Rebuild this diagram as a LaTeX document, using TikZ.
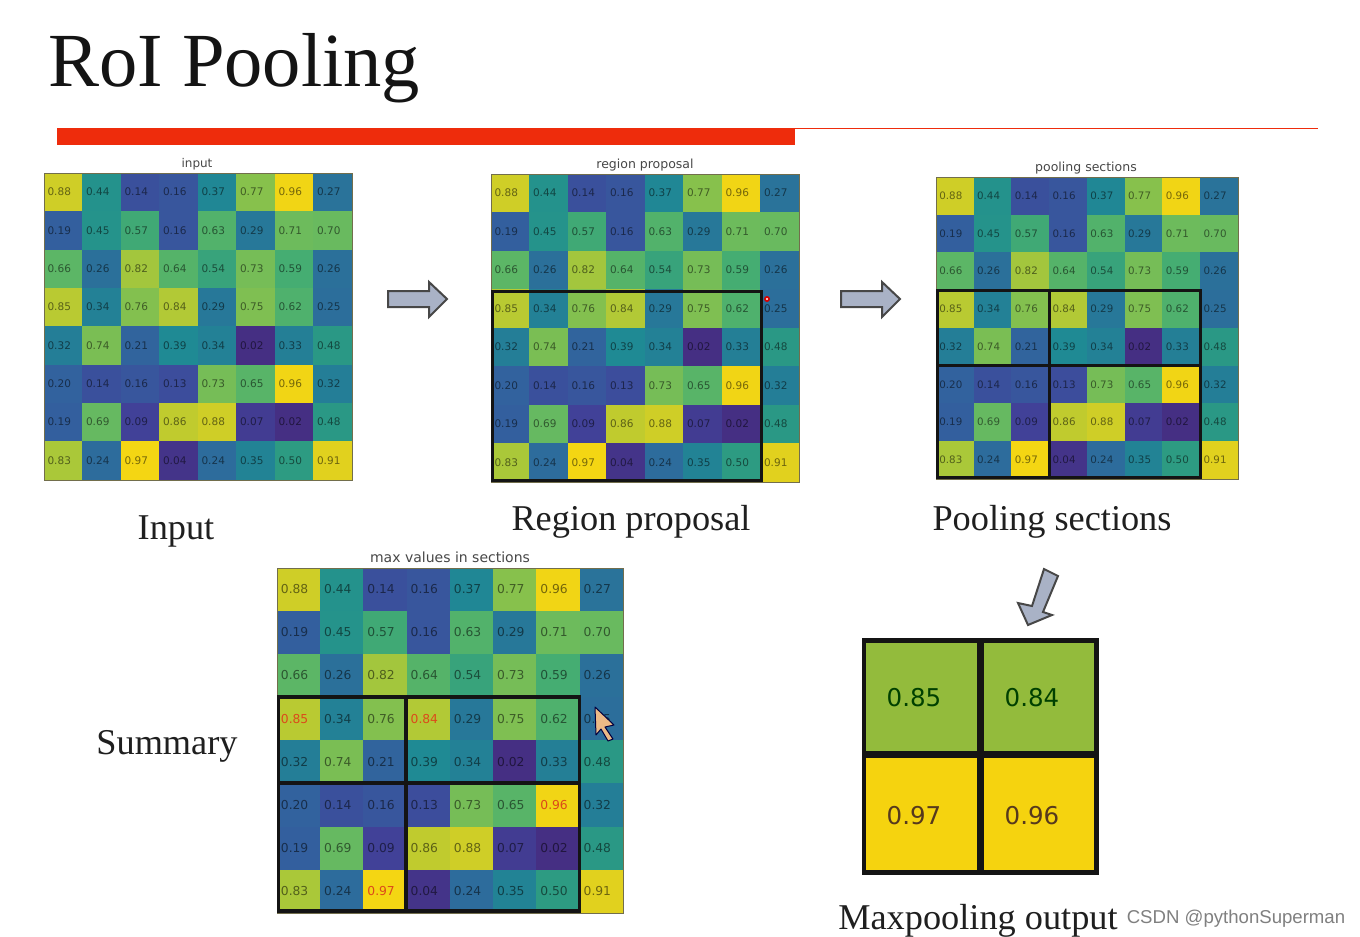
\documentclass[tikz,border=0pt]{standalone}
\usepackage{fontspec}
\setmainfont{Liberation Serif}
\newfontfamily\plotfont{DejaVu Sans}
\newfontfamily\markfont{Liberation Sans}
\def\gridvals{{0.88,0.44,0.14,0.16,0.37,0.77,0.96,0.27},{0.19,0.45,0.57,0.16,0.63,0.29,0.71,0.70},{0.66,0.26,0.82,0.64,0.54,0.73,0.59,0.26},{0.85,0.34,0.76,0.84,0.29,0.75,0.62,0.25},{0.32,0.74,0.21,0.39,0.34,0.02,0.33,0.48},{0.20,0.14,0.16,0.13,0.73,0.65,0.96,0.32},{0.19,0.69,0.09,0.86,0.88,0.07,0.02,0.48},{0.83,0.24,0.97,0.04,0.24,0.35,0.50,0.91}}
\newcommand{\setcellcolor}[1]{%
  \pgfmathsetmacro{\ci}{min(9,int(floor(#1*10)))}%
  \pgfmathsetmacro{\cf}{#1*10-\ci}%
  \pgfmathtruncatemacro{\cj}{\ci+1}%
  \pgfmathtruncatemacro{\ck}{\ci}%
  \pgfmathtruncatemacro{\cr}{round({70,64,50,38,30,45,72,105,148,222,253}[\ck]*(1-\cf)+{70,64,50,38,30,45,72,105,148,222,253}[\cj]*\cf)}%
  \pgfmathtruncatemacro{\cg}{round({42,68,98,122,140,155,175,186,196,208,216}[\ck]*(1-\cf)+{42,68,98,122,140,155,175,186,196,208,216}[\cj]*\cf)}%
  \pgfmathtruncatemacro{\cb}{round({125,155,158,152,147,130,112,95,68,32,14}[\ck]*(1-\cf)+{125,155,158,152,147,130,112,95,68,32,14}[\cj]*\cf)}%
  \definecolor{cellcol}{RGB}{\cr,\cg,\cb}}
% \heatgrid{prefix}{left}{top}{cell width}{cell height}{font size}
\newcommand{\heatgrid}[6]{%
  \foreach \rowvals [count=\r from 0] in \gridvals {%
    \foreach \v [count=\c from 0] in \rowvals {%
      \setcellcolor{\v}%
      \ifcsname mark-#1-\r-\c\endcsname \colorlet{celltxt}{markred}\else \colorlet{celltxt}{cellcol!48!black}\fi
      \node[cellbox, fill=cellcol, text=celltxt, minimum width=#4pt+0.4pt, minimum height=#5pt+0.4pt,
            font={\plotfont\fontsize{#6}{#6}\selectfont}]
        (#1-\r-\c) at ({#2+(\c+0.5)*#4},{#3+(\r+0.5)*#5}) {\raisebox{0.8pt}{\v}\hspace*{8pt}};
    }%
  }%
  \draw[gridframe] (#2,#3) rectangle ({#2+8*#4},{#3+8*#5});
}
\definecolor{markred}{HTML}{DC4A1A}
\expandafter\def\csname mark-s-3-0\endcsname{}
\expandafter\def\csname mark-s-3-3\endcsname{}
\expandafter\def\csname mark-s-5-6\endcsname{}
\expandafter\def\csname mark-s-7-2\endcsname{}
\definecolor{barred}{HTML}{EE2C0C}
\definecolor{arrowfill}{HTML}{A9B2C6}
\definecolor{outgreen}{HTML}{93BB3C}
\definecolor{outyellow}{HTML}{F5D30F}
\tikzset{
  cellbox/.style={inner sep=0pt, outer sep=0pt, rectangle},
  gridframe/.style={draw=black!45!olive!60!gray, line width=0.8pt},
  plottitle/.style={font={\plotfont\fontsize{#1}{#1}\selectfont}, text=black!72, inner sep=0pt},
  caption/.style={font=\fontsize{36.3}{36.3}\selectfont, text=black!88, inner sep=0pt},
  section/.style={draw=black!92, line width=#1},
  blockarrow/.style={draw=black!72, line width=2pt, fill=arrowfill, line join=miter},
  outcell/.style={inner sep=0pt, outer sep=0pt, minimum width=116pt, minimum height=116pt},
  outtext/.style={font={\plotfont\fontsize{24.5}{24.5}\selectfont}, inner sep=0pt}
}
\begin{document}
\begin{tikzpicture}[x=1pt,y=-1pt]
\useasboundingbox (0,0) rectangle (1360,937);
\fill[white] (0,0) rectangle (1360,937);
% title and rule
\node[anchor=base west, inner sep=0pt, font=\fontsize{76.5}{76.5}\selectfont, text=black!92] (title) at (48,86) {RoI Pooling};
\fill[barred] (57,128) rectangle (795,145);
\draw[barred, line width=1pt] (795,128) -- (1318,128);
% panels
\heatgrid{a}{44}{173}{38.5}{38.375}{10.5}
\node[plottitle=12] (atitle) at (197,164) {input};
\heatgrid{b}{491}{174}{38.5}{38.5}{10.5}
\node[plottitle=12.5] (btitle) at (645,165) {region proposal};
\heatgrid{c}{936}{177}{37.75}{37.75}{10.3}
\node[plottitle=12.5] (ctitle) at (1086,168) {pooling sections};
\heatgrid{s}{277}{568}{43.25}{43.125}{12.3}
\node[plottitle=14] (stitle) at (450,557) {max values in sections};
% section frames
\draw[section=3pt] (492.5,291) rectangle (761,480.5);
\fill[red!85!black] (767,299) circle (3pt);
\fill[white] (767,299) circle (1.2pt);
\draw[section=3pt] (937.5,290.5) rectangle (1200,477.5);
\draw[section=3pt] (1049,290.5) -- (1049,477.5);
\draw[section=3pt] (937.5,365) -- (1200,365);
\draw[section=3.5pt] (278.5,697) rectangle (579.5,911);
\draw[section=3.5pt] (406,697) -- (406,911);
\draw[section=3.5pt] (278.5,783) -- (579.5,783);
% arrows
\draw[blockarrow] (388,291) -- (429,291) -- (429,282) -- (447,299) -- (429,317) -- (429,307) -- (388,307) -- cycle;
\draw[blockarrow] (841,291) -- (882,291) -- (882,282) -- (900,299) -- (882,317) -- (882,307) -- (841,307) -- cycle;
\draw[blockarrow] (1044,569) -- (1058,576) -- (1043,612) -- (1052,615) -- (1028,625) -- (1018,603) -- (1032,606) -- cycle;
% captions
\node[caption] (input) at (176,531) {Input};
\node[caption] (region) at (631,522) {Region proposal};
\node[caption] (pooling) at (1052,522) {Pooling sections};
\node[caption] (summary) at (167,746) {Summary};
\node[caption] (maxout) at (978,921) {Maxpooling output};
% output grid
\node[outcell, fill=outgreen] (o00) at (921,697) {};
\node[outcell, fill=outgreen] (o01) at (1039,697) {};
\node[outcell, fill=outyellow] (o10) at (921,815) {};
\node[outcell, fill=outyellow] (o11) at (1039,815) {};
\node[outtext, text=green!25!black] (t00) at (914,698) {0.85};
\node[outtext, text=green!25!black] (t01) at (1032,698) {0.84};
\node[outtext, text=brown!45!black] (t10) at (914,816) {0.97};
\node[outtext, text=brown!45!black] (t11) at (1032,816) {0.96};
\fill[white] (1097,630) rectangle (1110,880);
\draw[section=4.5pt] (864,640.5) rectangle (1096.5,872.5);
\draw[section=7pt] (980,640.5) -- (980,872.5);
\draw[section=7pt] (864,754) -- (1096.5,754);
% cursor
\draw[fill=orange!45!brown!55!white, draw=black!75!blue, line width=1pt, line join=round] (595,707) -- (614,725) -- (605,727) -- (613,739) -- (608,741) -- (601,729) -- (596,735) -- cycle;
% watermark
\node[font={\markfont\fontsize{18.6}{18.6}\selectfont}, text=black!50, inner sep=0pt] (mark) at (1236,919) {CSDN @pythonSuperman};
\end{tikzpicture}
\end{document}
